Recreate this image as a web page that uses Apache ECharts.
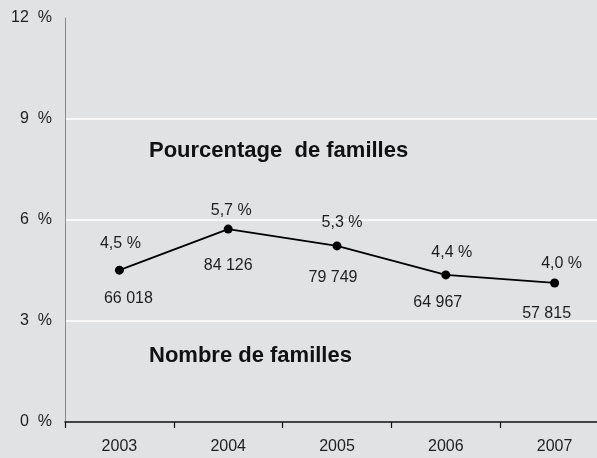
<!DOCTYPE html>
<html><head><meta charset="utf-8">
<script src="https://cdn.jsdelivr.net/npm/echarts@6/dist/echarts.min.js"></script>
<style>html,body{margin:0;padding:0;background:#e1e2e4}#c{width:597px;height:458px}</style>
</head><body><div id="c"></div>
<script>
const years = ['2003', '2004', '2005', '2006', '2007'];
const percentValues = [4.51, 5.73, 5.23, 4.37, 4.13];
const percentLabels = ['4,5 %', '5,7 %', '5,3 %', '4,4 %', '4,0 %'];
const familyCounts = ['66 018', '84 126', '79 749', '64 967', '57 815'];
const yTicks = [0, 3, 6, 9, 12];

const pctOffsets = [[1, -27], [3, -18], [5, -23], [6, -22], [7, -19]];
const cntOffsets = [[9, 28], [0, 37], [-4, 32], [-8, 28], [-8, 31]];

const numFont = {fontFamily: 'Liberation Sans', fontSize: 16, color: '#1e1e1e'};

const chart = echarts.init(document.getElementById('c'), null, {renderer: 'canvas'});
chart.setOption({
  backgroundColor: '#e1e2e4',
  animation: false,
  title: [
    {text: 'Pourcentage  de familles', left: 149, top: 140, padding: 0,
     textStyle: {fontFamily: 'Liberation Sans', fontWeight: 'bold', fontSize: 22, color: '#111'}},
    {text: 'Nombre de familles', left: 149, top: 345, padding: 0,
     textStyle: {fontFamily: 'Liberation Sans', fontWeight: 'bold', fontSize: 22, color: '#111'}}
  ],
  grid: {left: 65, width: 544, top: 18, height: 404, containLabel: false, outerBoundsMode: 'none'},
  xAxis: {
    type: 'category', data: years, boundaryGap: true,
    axisLine: {show: true, lineStyle: {color: '#111', width: 1.5}},
    axisTick: {show: true, length: 6, lineStyle: {color: '#111', width: 1.2}},
    axisLabel: Object.assign({margin: 17}, numFont),
    splitLine: {show: false}
  },
  yAxis: {
    type: 'value', min: yTicks[0], max: yTicks[yTicks.length - 1], interval: 3,
    axisLine: {show: true, lineStyle: {color: '#8a8a8a', width: 1}},
    axisTick: {show: false},
    axisLabel: Object.assign({margin: 13, formatter: v => v + '  %'}, numFont),
    splitLine: {show: true, lineStyle: {color: ['rgba(0,0,0,0)', '#ffffff', '#ffffff', '#ffffff', 'rgba(0,0,0,0)'], width: 1.5}}
  },
  series: [
    {
      type: 'line', z: 5,
      data: percentValues.map((v, i) => ({value: v, label: {offset: pctOffsets[i]}})),
      symbol: 'circle', symbolSize: 9,
      itemStyle: {color: '#000'},
      lineStyle: {color: '#000', width: 1.8},
      label: Object.assign({show: true, position: 'inside', formatter: p => percentLabels[p.dataIndex]}, numFont)
    },
    {
      type: 'line', z: 4,
      data: percentValues.map((v, i) => ({value: v, label: {offset: cntOffsets[i]}})),
      symbol: 'circle', symbolSize: 1,
      itemStyle: {color: 'rgba(0,0,0,0)'},
      lineStyle: {opacity: 0, width: 0},
      label: Object.assign({show: true, position: 'inside', formatter: p => familyCounts[p.dataIndex]}, numFont)
    }
  ]
});
</script></body></html>
